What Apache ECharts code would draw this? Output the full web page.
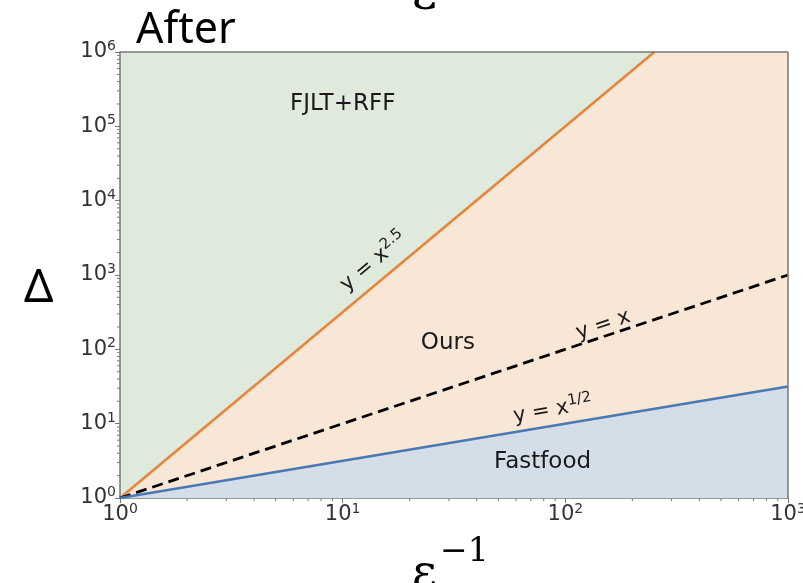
<!DOCTYPE html>
<html>
<head>
<meta charset="utf-8">
<script src="https://cdn.jsdelivr.net/npm/echarts@6/dist/echarts.min.js"></script>
<style>
  html, body { margin: 0; padding: 0; background: #fff; }
  #main { width: 803px; height: 583px; }
</style>
</head>
<body>
<div id="main"></div>
<script>
// 数据
var orangeLine = [[1, 1], [251, 1e6]];           // y = x^2.5
var oursTop = [[1, 1], [251, 1e6], [1000, 1e6]]; // 橙色区域上边界
var dashedLine = [[1, 1], [1000, 1000]];         // y = x
var blueLine = [[1, 1], [1000, 31.6]];           // y = x^1/2
var xMinorTicks = [2, 3, 4, 5, 6, 7, 8, 9, 20, 30, 40, 50, 60, 70, 80, 90, 200, 300, 400, 500, 600, 700, 800, 900];
var yMinorTicks = [];
[1, 10, 100, 1000, 10000, 100000].forEach(function (d) {
    [2, 3, 4, 5, 6, 7, 8, 9].forEach(function (k) { yMinorTicks.push(k * d); });
});
var regionNames = ['FJLT+RFF', 'Ours', 'Fastfood'];
var regionPos = [[10, 2e5], [29.7, 122], [79, 3.05]];
var lineNames = ['y = x^2.5', 'y = x', 'y = x^1/2'];
var linePos = [[13.8, 1500], [148, 212], [88, 15.3]];
var lineAngles = [40, 18.5, 10];

var green = '#dfe9dc', peach = '#f8e6d6', blueFill = '#d4dee8';
var orange = '#e8843a', blue = '#4a78b5';
var axisColor = '#777';

function sup(v) {
    var e = Math.round(Math.log10(v));
    return '{b|10}{s|' + e + '}';
}

var tickRich = {
    b: { fontFamily: 'DejaVu Sans', fontSize: 21, color: '#333' },
    s: { fontFamily: 'DejaVu Sans', fontSize: 14, color: '#333', padding: [0, 0, 11, 0] }
};

var dom = echarts.init(document.getElementById('main'));
var option = {
    animation: false,
    backgroundColor: '#fff',
    grid: {
        left: 120, right: 15, top: 52, bottom: 85,
        outerBoundsMode: 'none',
        show: true, backgroundColor: green, borderWidth: 0
    },
    xAxis: {
        type: 'log', min: 1, max: 1000, logBase: 10, splitNumber: 3,
        axisLine: { show: true, onZero: false, lineStyle: { color: axisColor, width: 1.5 } },
        axisTick: { show: true, inside: false, length: 5, lineStyle: { color: axisColor } },
        splitLine: { show: false },
        axisLabel: { formatter: sup, rich: tickRich, margin: 4 }
    },
    yAxis: {
        type: 'log', min: 1, max: 1e6, logBase: 10, splitNumber: 6,
        axisLine: { show: true, onZero: false, lineStyle: { color: axisColor, width: 1.5 } },
        axisTick: { show: true, inside: false, length: 5, lineStyle: { color: axisColor } },
        splitLine: { show: false },
        axisLabel: { formatter: sup, rich: tickRich, margin: 4 }
    },
    graphic: [
        { type: 'text', left: 136, top: 9, style: { text: 'After', font: '43px "Noto Sans"', fill: '#000' } },
        { type: 'text', left: 24, top: 266, style: { text: 'Δ', font: '46px "Noto Sans"', fill: '#000' } },
        { type: 'text', left: 412, top: -27, style: { text: 'ε', font: '48px "DejaVu Serif"', fill: '#000' } },
        { type: 'text', left: 412, top: 552, style: { text: 'ε', font: '48px "DejaVu Serif"', fill: '#000' } },
        { type: 'text', left: 440, top: 536, style: { text: '−1', font: '33px "DejaVu Serif"', fill: '#000' } },
        // 上框和右框
        { type: 'line', shape: { x1: 120, y1: 52, x2: 788, y2: 52 }, style: { stroke: axisColor, lineWidth: 1.5 }, z: 10 },
        { type: 'line', shape: { x1: 788, y1: 52, x2: 788, y2: 498 }, style: { stroke: axisColor, lineWidth: 1.5 }, z: 10 }
    ],
    series: [
        {
            type: 'line', data: oursTop, symbol: 'none', silent: true, z: 1,
            lineStyle: { width: 0 },
            areaStyle: { color: peach, opacity: 1, origin: 'start' }
        },
        {
            type: 'line', data: blueLine, symbol: 'none', silent: true, z: 1,
            lineStyle: { width: 0 },
            areaStyle: { color: blueFill, opacity: 1, origin: 'start' }
        },
        {
            type: 'line', data: orangeLine, symbol: 'none', silent: true, z: 3,
            lineStyle: { color: orange, width: 2.5 }
        },
        {
            type: 'line', data: dashedLine, symbol: 'none', silent: true, z: 3,
            lineStyle: { color: '#000', width: 2.8, type: [11, 6] }
        },
        {
            type: 'line', data: blueLine, symbol: 'none', silent: true, z: 3,
            lineStyle: { color: blue, width: 2.5 }
        },
        {
            // 区域名称
            type: 'scatter', symbolSize: 0, silent: true, z: 10,
            itemStyle: { opacity: 1 },
            data: regionPos.map(function (p, i) { return { value: p, name: regionNames[i] }; }),
            label: {
                show: true, position: 'inside', formatter: '{b}',
                fontFamily: 'DejaVu Sans', fontSize: 23, color: '#1a1a1a', opacity: 1
            }
        },
        {
            // 曲线标注
            type: 'scatter', symbolSize: 0, silent: true, z: 10,
            itemStyle: { opacity: 1 },
            data: linePos.map(function (p, i) {
                var parts = lineNames[i].split('^');
                var txt = '{n|' + parts[0] + '}' + (parts[1] ? '{s|' + parts[1] + '}' : '');
                return { value: p, label: { rotate: lineAngles[i], formatter: txt } };
            }),
            label: {
                show: true, position: 'inside', opacity: 1,
                rich: {
                    n: { fontFamily: 'DejaVu Sans', fontSize: 21, color: '#1a1a1a' },
                    s: { fontFamily: 'DejaVu Sans', fontSize: 15, color: '#1a1a1a', padding: [0, 0, 12, 0] }
                }
            }
        },
        {
            // x 次刻度
            type: 'custom', silent: true, clip: false, z: 5,
            data: xMinorTicks.map(function (v) { return [v, 1]; }),
            renderItem: function (params, api) {
                var p = api.coord([api.value(0), api.value(1)]);
                return { type: 'line', shape: { x1: p[0], y1: p[1], x2: p[0], y2: p[1] + 3 }, style: { stroke: axisColor, lineWidth: 1 } };
            }
        },
        {
            // y 次刻度
            type: 'custom', silent: true, clip: false, z: 5,
            data: yMinorTicks.map(function (v) { return [1, v]; }),
            renderItem: function (params, api) {
                var p = api.coord([api.value(0), api.value(1)]);
                return { type: 'line', shape: { x1: p[0] - 3, y1: p[1], x2: p[0], y2: p[1] }, style: { stroke: axisColor, lineWidth: 1 } };
            }
        }
    ]
};
dom.setOption(option);
</script>
</body>
</html>
